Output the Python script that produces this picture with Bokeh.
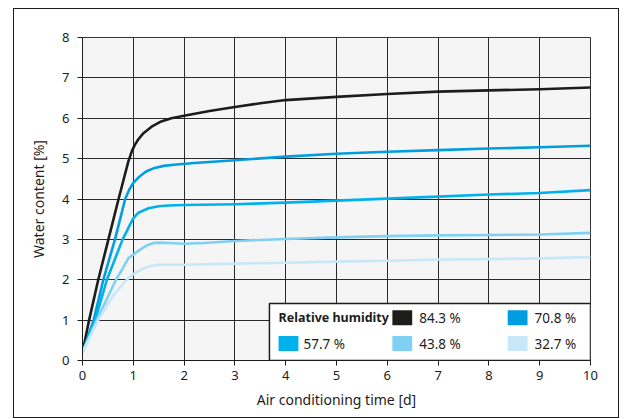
from bokeh.plotting import figure
from bokeh.embed import file_html
from bokeh.resources import INLINE
from bokeh.models import FixedTicker, Range1d
from bokeh.core.properties import value

# ---- data ----
humidity_labels = ["84.3 %", "70.8 %", "57.7 %", "43.8 %", "32.7 %"]
colors = ["#1d1d1b", "#009ee0", "#00b1eb", "#7fd0f3", "#c8e8f9"]

t_843 = [0, 0.13, 0.31, 0.51, 0.71, 0.9, 0.97, 1.03, 1.1, 1.2, 1.36, 1.55, 1.75, 2.0, 2.5, 3, 3.5, 4, 5, 6, 7, 8, 9, 10]
w_843 = [0.2, 1.0, 2.0, 3.0, 4.0, 4.92, 5.18, 5.34, 5.48, 5.63, 5.79, 5.92, 6.0, 6.06, 6.18, 6.28, 6.37, 6.45, 6.53, 6.6, 6.66, 6.69, 6.72, 6.76]

t_708 = [0, 0.22, 0.41, 0.64, 0.84, 0.92, 1.0, 1.1, 1.25, 1.42, 1.6, 1.8, 2.2, 3, 4, 5, 6, 7, 8, 9, 10]
w_708 = [0.2, 1.0, 2.0, 3.0, 4.0, 4.23, 4.4, 4.53, 4.68, 4.77, 4.82, 4.85, 4.89, 4.96, 5.05, 5.12, 5.17, 5.21, 5.25, 5.28, 5.32]

t_577 = [0, 0.25, 0.48, 0.79, 0.87, 0.94, 1.0, 1.1, 1.3, 1.5, 1.69, 2.0, 3, 4, 5, 6, 7, 8, 9, 10]
w_577 = [0.2, 1.0, 2.0, 3.0, 3.2, 3.38, 3.52, 3.66, 3.77, 3.82, 3.84, 3.85, 3.87, 3.91, 3.96, 4.01, 4.06, 4.11, 4.15, 4.22]

t_438 = [0, 0.28, 0.66, 0.8, 0.9, 1.07, 1.25, 1.4, 1.5, 1.7, 2.0, 2.4, 3, 4, 5, 6, 7, 8, 9, 10]
w_438 = [0.2, 1.0, 2.0, 2.3, 2.53, 2.69, 2.84, 2.91, 2.92, 2.91, 2.89, 2.91, 2.96, 3.01, 3.05, 3.08, 3.1, 3.11, 3.12, 3.16]

t_327 = [0, 0.31, 0.6, 0.87, 1.0, 1.17, 1.3, 1.5, 2.0, 3, 4, 5, 6, 7, 8, 9, 10]
w_327 = [0.2, 1.0, 1.6, 2.0, 2.14, 2.26, 2.33, 2.37, 2.37, 2.4, 2.42, 2.45, 2.47, 2.5, 2.51, 2.53, 2.56]

series_t = [t_843, t_708, t_577, t_438, t_327]
series_w = [w_843, w_708, w_577, w_438, w_327]

x_ticks = list(range(0, 11))
y_ticks = list(range(0, 9))
legend_title = "Relative humidity"
x_title = "Air conditioning time [d]"
y_title = "Water content [%]"

FONT = "Noto Sans"

p = figure(width=606, height=410, output_backend="svg", toolbar_location=None,
           x_range=Range1d(0, 10), y_range=Range1d(0, 8),
           min_border_left=68, min_border_right=30, min_border_top=28, min_border_bottom=59)
p.margin = (8, 0, 0, 13)
p.styles = {"border": "1.5px solid #1d1d1b", "box-sizing": "border-box"}
p.background_fill_color = "#f5f5f5"
p.border_fill_color = "white"
p.outline_line_color = "#333333"
p.outline_line_width = 1

for ax, ticks in ((p.xaxis, x_ticks), (p.yaxis, y_ticks)):
    ax.ticker = FixedTicker(ticks=ticks)
    ax.minor_tick_line_color = None
    ax.major_tick_out = 5
    ax.major_tick_in = 0
    ax.axis_line_color = "#1d1d1b"
    ax.major_tick_line_color = "#1d1d1b"
    ax.major_label_text_font = FONT
    ax.major_label_text_font_size = "13px"
    ax.major_label_text_color = "#1d1d1b"
    ax.axis_label_text_font = FONT
    ax.axis_label_text_font_size = "14px"
    ax.axis_label_text_font_style = "normal"
    ax.axis_label_text_color = "#1d1d1b"
p.xaxis.axis_label = x_title
p.yaxis.axis_label = y_title
p.yaxis.major_label_standoff = 8
p.xaxis.axis_label_standoff = 7
p.yaxis.axis_label_standoff = 11

p.grid.grid_line_color = "#2a2a2a"
p.grid.grid_line_width = 1
p.xgrid.ticker = FixedTicker(ticks=x_ticks)
p.ygrid.ticker = FixedTicker(ticks=y_ticks)

for t, w, c in zip(series_t, series_w, colors):
    p.line(t, w, line_color=c, line_width=2.6, line_join="round")

# ---- legend box (drawn in data space) ----
lx0, lx1, ly0, ly1 = 3.68, 10.0, 0.0, 1.41
p.quad(left=[lx0], right=[lx1], bottom=[ly0], top=[ly1],
       fill_color="white", line_color="#1d1d1b", line_width=1.5)
row_y = [1.06, 0.42]
col_sw = [3.86, 6.10, 8.37]
col_lb = [4.35, 6.63, 8.90]
sw_w, sw_h = 0.39, 0.37
p.text([col_sw[0]], [row_y[0]], text=[legend_title], text_font=value(FONT),
       text_font_size="12.5px", text_font_style="bold", text_baseline="middle",
       text_color="#1d1d1b")
for i, (lab, c) in enumerate(zip(humidity_labels, colors)):
    slot = i + 1
    r, col = divmod(slot, 3)
    p.rect([col_sw[col] + sw_w / 2], [row_y[r]], width=sw_w, height=sw_h,
           fill_color=c, line_color=None)
    p.text([col_lb[col]], [row_y[r]], text=[lab], text_font=value(FONT),
           text_font_size="13.5px", text_baseline="middle", text_color="#1d1d1b")

open("out.html", "w").write(file_html(p, INLINE))
